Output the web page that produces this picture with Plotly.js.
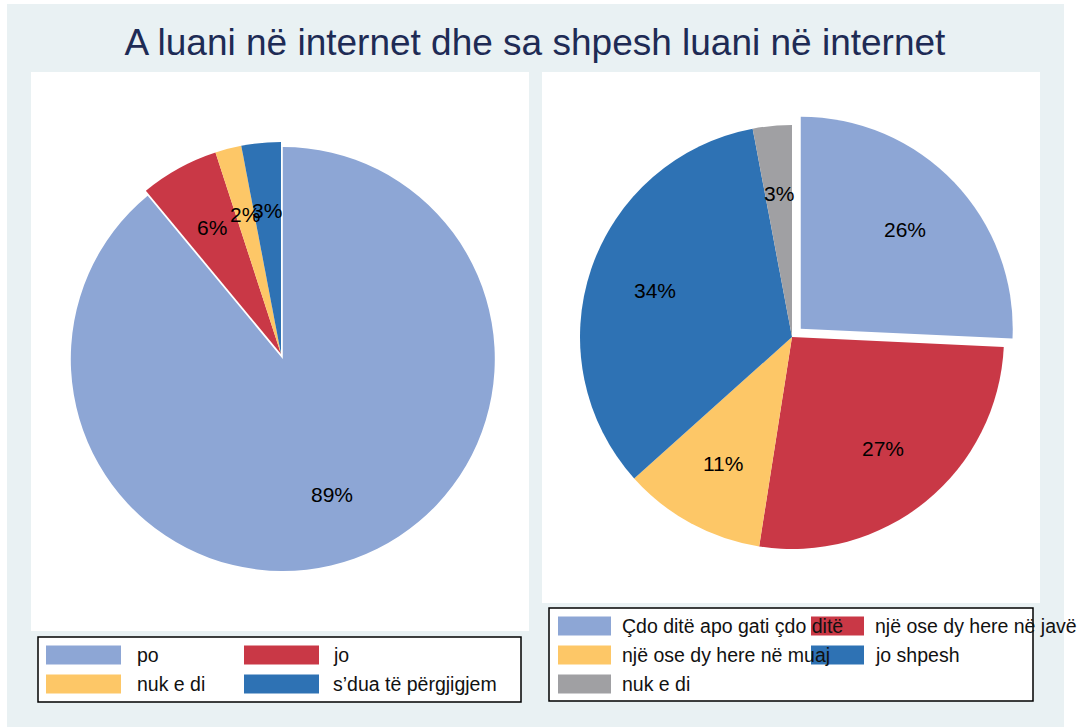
<!DOCTYPE html>
<html>
<head>
<meta charset="utf-8">
<script src="https://cdn.plot.ly/plotly-3.0.1.min.js"></script>
<style>html,body{margin:0;padding:0;background:#fff;}#chart{width:1078px;height:727px;}</style>
</head>
<body>
<div id="chart"></div>
<script>
// ---- data ----
const chartTitle = "A luani në internet dhe sa shpesh luani në internet";

const leftLabels = ["po", "jo", "nuk e di", "s’dua të përgjigjem"];
const leftValues = [89, 6, 2, 3];
const leftColors = ["#8DA6D5", "#C93846", "#FDC767", "#2E72B4"];
const leftPull = [0.025, 0, 0, 0];

const rightLabels = ["Çdo ditë apo gati çdo ditë", "një ose dy here në javë", "një ose dy here në muaj", "jo shpesh", "nuk e di"];
const rightValues = [26, 27, 11, 34, 3];
const rightColors = ["#8DA6D5", "#C93846", "#FDC767", "#2E72B4", "#A0A0A3"];
const rightPull = [0.057, 0, 0, 0, 0];

// ---- layout geometry (pixels) ----
const W = 1078, H = 727;
const FONT = "Liberation Sans, Arial, Helvetica, sans-serif";
const R = 212;
const leftCenter = [281, 354];
const rightCenter = [792, 337];

const px = x => x / W;
const py = y => 1 - y / H;

function domainFor(center, pulls) {
  const maxPull = Math.max.apply(null, pulls);
  const box = R * (2 + 2 * maxPull);
  return {
    x: [px(center[0] - box / 2), px(center[0] + box / 2)],
    y: [py(center[1] + box / 2), py(center[1] - box / 2)]
  };
}

function pieTrace(labels, values, colors, pulls, center) {
  return {
    type: "pie",
    labels: labels,
    values: values,
    sort: false,
    direction: "clockwise",
    rotation: 0,
    pull: pulls,
    marker: {colors: colors, line: {width: 0}},
    textinfo: "none",
    hoverinfo: "none",
    showlegend: false,
    domain: domainFor(center, pulls)
  };
}

// percentage labels placed at slice mid-angles
function sliceLabels(values, pulls, center) {
  const total = values.reduce((a, b) => a + b, 0);
  let cum = 0;
  const out = [];
  values.forEach((v, i) => {
    const mid = (cum + v / 2) / total * 2 * Math.PI;
    cum += v;
    const dx = Math.sin(mid), dy = -Math.cos(mid);
    const off = pulls[i] * R;
    const rr = 0.68 * R;
    const x = center[0] + dx * (rr + off);
    const y = center[1] + dy * (rr + off);
    out.push({
      text: Math.round(v / total * 100) + "%",
      x: px(x), y: py(y), xref: "paper", yref: "paper",
      xanchor: "center", yanchor: "middle", showarrow: false,
      font: {family: FONT, size: 21, color: "#000"}
    });
  });
  return out;
}

const shapes = [];
const annotations = [];

function rect(x0, y0, x1, y1, fill, line) {
  shapes.push({
    type: "rect", xref: "paper", yref: "paper", layer: "below",
    x0: px(x0), x1: px(x1), y0: py(y1), y1: py(y0),
    fillcolor: fill, line: line || {width: 0}
  });
}

// background and panels
rect(7, 4, 1064, 727, "#E9F1F3");
rect(31, 72, 529, 631, "#FFFFFF");
rect(542, 72, 1040, 603, "#FFFFFF");

// legend boxes
rect(38, 637, 521, 702, "#FFFFFF", {color: "#000", width: 1.5});
rect(549, 608, 1033, 701, "#FFFFFF", {color: "#000", width: 1.5});

function legend(labels, colors, cols) {
  labels.forEach((lab, i) => {
    const c = i % 2, r = Math.floor(i / 2);
    const kx = cols.keyX[c], ky = cols.rowY[r];
    rect(kx, ky - 9.5, kx + cols.keyW, ky + 9.5, colors[i]);
    annotations.push({
      text: lab, x: px(cols.textX[c]), y: py(ky), xref: "paper", yref: "paper",
      xanchor: "left", yanchor: "middle", showarrow: false,
      font: {family: FONT, size: 19.5, color: "#111"}
    });
  });
}

legend(leftLabels, leftColors, {keyX: [46, 244], keyW: 75, textX: [135, 331], rowY: [655, 684]});
legend(rightLabels, rightColors, {keyX: [558, 811], keyW: 53, textX: [620, 873], rowY: [626, 655, 684]});

annotations.push.apply(annotations, sliceLabels(leftValues, leftPull, leftCenter));
annotations.push.apply(annotations, sliceLabels(rightValues, rightPull, rightCenter));

const layout = {
  width: W, height: H,
  margin: {l: 0, r: 0, t: 0, b: 0},
  paper_bgcolor: "#FFFFFF",
  title: {
    text: chartTitle,
    x: px(535), xanchor: "center", xref: "paper",
    y: py(42), yanchor: "middle", yref: "paper",
    font: {family: FONT, size: 37, color: "#1E2B55"}
  },
  shapes: shapes,
  annotations: annotations,
  showlegend: false
};

Plotly.newPlot("chart", [
  pieTrace(leftLabels, leftValues, leftColors, leftPull, leftCenter),
  pieTrace(rightLabels, rightValues, rightColors, rightPull, rightCenter)
], layout, {displayModeBar: false, staticPlot: true});
</script>
</body>
</html>
